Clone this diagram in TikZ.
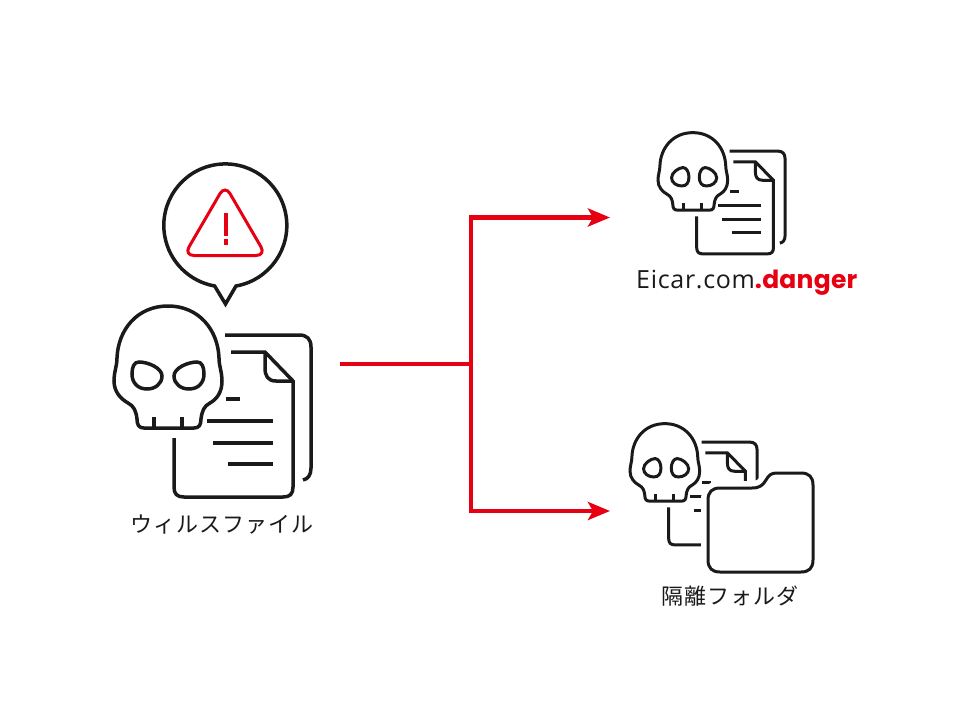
\documentclass[tikz,border=0pt]{standalone}
\usepackage{fontspec}
\usetikzlibrary{arrows.meta}
\newfontfamily\jpfont[LetterSpace=4.5]{Noto Sans CJK JP}
\newfontfamily\latinfont[LetterSpace=2.8]{Open Sans}
\newfontfamily\dangerfont[LetterSpace=1]{Poppins}
\definecolor{inkblack}{HTML}{1A1A1A}
\definecolor{alertred}{HTML}{E60012}
\newcommand{\folderpath}{(720,488) -- (752,488) .. controls (760,488) and (763,485) .. (766,480) .. controls (769,475) and (771,473) .. (777,473) -- (801,473) .. controls (809,473) and (813,477) .. (813,485) -- (813,560) .. controls (813,568) and (809,572) .. (801,572) -- (720,572) .. controls (712,572) and (708,568) .. (708,560) -- (708,500) .. controls (708,492) and (712,488) .. (720,488) -- cycle}
\tikzset{
skullfile/.pic={
\begin{scope}[shift={(-114,-305)}]
%Skull
\draw (168,306) .. controls (137,306) and (118,330) .. (117,358) .. controls (117,366) and (114,372) .. (114,381) .. controls (114,392) and (121,399) .. (128,403) .. controls (134,406) and (136,411) .. (137,419) .. controls (137,425) and (139,428) .. (144,428) -- (194,428) .. controls (199,428) and (201,425) .. (201,419) .. controls (202,411) and (204,406) .. (210,403) .. controls (217,399) and (222,392) .. (222,381) .. controls (222,372) and (219,366) .. (219,358) .. controls (218,330) and (199,306) .. (168,306) -- cycle;
\draw (154,417) -- (154,428);
\draw (182,417) -- (182,428);
%Pages
\draw (225,335) -- (299,335) .. controls (307,335) and (311,339) .. (311,347) -- (311,468) .. controls (311,475) and (308,479) .. (303,480);
\draw (231,352) -- (265,352) -- (293,381) -- (293,487) .. controls (293,494) and (290,497) .. (283,497) -- (184,497) .. controls (177,497) and (174,494) .. (174,487) -- (174,438);
\draw (265,352) -- (265,368) .. controls (265,376) and (268,381) .. (276,381) -- (293,381);
\draw (226,399) -- (240,399);
\draw (207,421) -- (273,421);
\draw (213,443) -- (273,443);
\draw (228,464) -- (273,464);
\end{scope}
},
angryeyes/.pic={
\begin{scope}[shift={(-114,-305)}]
\draw (139,362) .. controls (148,362) and (162,368) .. (162,376) .. controls (162,384) and (155,389) .. (147,389) .. controls (137,389) and (132,382) .. (132,374) .. controls (132,367) and (134,362) .. (139,362) -- cycle;
\draw (197,362) .. controls (188,362) and (174,368) .. (174,376) .. controls (174,384) and (181,389) .. (189,389) .. controls (199,389) and (204,382) .. (204,374) .. controls (204,367) and (202,362) .. (197,362) -- cycle;
\end{scope}
},
calmeyes/.pic={
\begin{scope}[shift={(-114,-305)}]
\draw (153,361) .. controls (158,361) and (162,368) .. (162,376) .. controls (162,385) and (158,390) .. (151,390) .. controls (143,390) and (135,385) .. (135,377) .. controls (135,369) and (146,361) .. (153,361) -- cycle;
\draw (187,361) .. controls (182,361) and (178,368) .. (178,376) .. controls (178,385) and (182,390) .. (189,390) .. controls (197,390) and (205,385) .. (205,377) .. controls (205,369) and (194,361) .. (187,361) -- cycle;
\end{scope}
},
}
\begin{document}
\begin{tikzpicture}[
x=1pt, y=-1pt,
bigicon/.style={draw=inkblack, line width=3.5pt},
smallicon/.style={draw=inkblack, line width=3pt, xscale=0.645, yscale=0.635},
outline/.style={draw=inkblack, line width=3pt},
redline/.style={draw=alertred, line width=4.6pt},
redarrow/.style={redline, -{Stealth[length=22pt, width=18pt, inset=5pt]}},
caption/.style={font=\jpfont\fontsize{22}{22}\selectfont, text=inkblack, inner sep=0pt},
]
\useasboundingbox (0,0) rectangle (970,728);

%Icons
\pic[bigicon] at (114,305) {skullfile};
\pic[bigicon] at (114,305) {angryeyes};
\pic[smallicon] at (658,132) {skullfile};
\pic[smallicon] at (658,132) {calmeyes};
\pic[smallicon] at (630,423) {skullfile};
\pic[smallicon] at (630,423) {calmeyes};

%Folder
\draw[white, fill=white, line width=14pt] \folderpath;
\draw[outline, fill=white] \folderpath;

%Bubble
\draw[draw=inkblack, line width=3.5pt, line join=miter] (236,286) arc[start angle=-80, end angle=260, radius=61.5pt] -- (225.5,304) -- cycle;
\draw[draw=alertred, line width=3pt, rounded corners=10pt] (225,185) -- (266,255.5) -- (184,255.5) -- cycle;
\draw[draw=alertred, line width=4pt] (225.5,213) -- (225.5,236);
\draw[draw=alertred, line width=4pt] (225.5,239) -- (225.5,245);

%Nodes
\node[caption] (virus)  at (222,524.5) {ウィルスファイル};
\node[caption] (folder) at (730,596) {隔離フォルダ};
\node[caption, anchor=base west, font=\latinfont\fontsize{25}{25}\selectfont] (danger) at (636,288.5) {Eicar.com{\color{alertred}\dangerfont\bfseries\fontsize{25}{25}\selectfont .danger}};

%Lines
\coordinate (start)  at (340,364);
\coordinate (branch) at (471,364);
\coordinate (top)    at (610,217.5);
\coordinate (bottom) at (610,511);
\draw[redline] (start) -- (branch);
\draw[redarrow] (branch) |- (top);
\draw[redarrow] (branch) |- (bottom);
\end{tikzpicture}
\end{document}
